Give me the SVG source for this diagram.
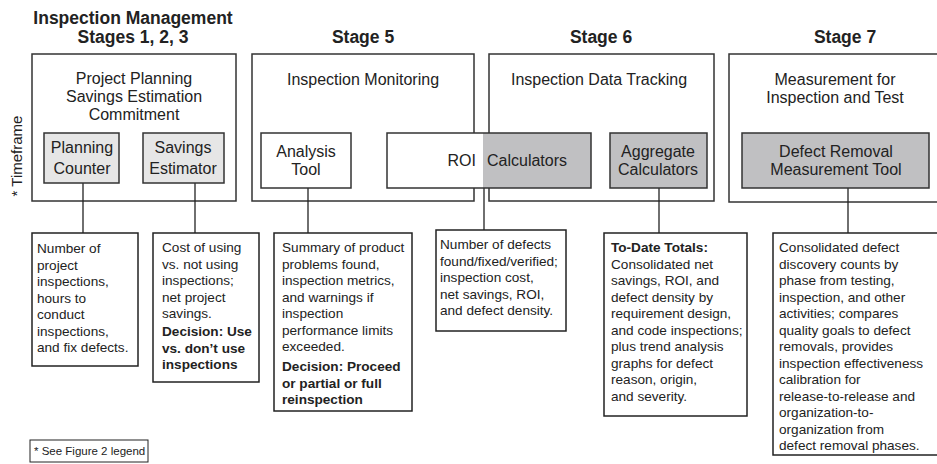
<svg xmlns="http://www.w3.org/2000/svg" width="937" height="464" viewBox="0 0 937 464">
  <style>
    text { font-family: "Liberation Sans", Arial, sans-serif; fill: #222; }
    .hdr { font-size: 17.5px; font-weight: bold; text-anchor: middle; }
    .ttl { font-size: 16px; text-anchor: middle; }
    .lbl { font-size: 16px; text-anchor: middle; }
    .lbl.end { text-anchor: end; }
    .lbl.start { text-anchor: start; }
    .desc { font-size: 13.6px; }
    .b { font-weight: bold; }
    .stage { fill: #fff; stroke: #333; stroke-width: 1.5; }
    .tool-lt { fill: #e6e6e6; stroke: #333; stroke-width: 1.5; }
    .tool-dk { fill: #c0c0c2; stroke: #333; stroke-width: 1.5; }
    .tool-wh { fill: #fff; stroke: #333; stroke-width: 1.5; }
    .note { fill: #fff; stroke: #222; stroke-width: 1.5; }
    .conn line { stroke: #222; stroke-width: 1.3; }
  </style>

  <!-- Column headers -->
  <g id="headers">
    <text class="hdr" x="133" y="24">Inspection Management</text>
    <text class="hdr" x="133" y="43">Stages 1, 2, 3</text>
    <text class="hdr" x="363" y="43">Stage 5</text>
    <text class="hdr" x="601" y="43">Stage 6</text>
    <text class="hdr" x="845" y="43">Stage 7</text>
  </g>

  <text x="22" y="156" font-size="15" text-anchor="middle" transform="rotate(-90 22 156)">* Timeframe</text>

  <!-- Stage containers -->
  <g id="stage-planning">
    <rect class="stage" x="32" y="54" width="204" height="147"/>
    <text class="ttl" x="134" y="84">Project Planning</text>
    <text class="ttl" x="134" y="102">Savings Estimation</text>
    <text class="ttl" x="134" y="120">Commitment</text>
  </g>
  <g id="stage-monitoring">
    <rect class="stage" x="252" y="54" width="222" height="147"/>
    <text class="ttl" x="363" y="85">Inspection Monitoring</text>
  </g>
  <g id="stage-tracking">
    <rect class="stage" x="489" y="54" width="225" height="147"/>
    <text class="ttl" x="599" y="85">Inspection Data Tracking</text>
  </g>
  <g id="stage-measurement">
    <rect class="stage" x="729" y="54" width="240" height="148"/>
    <text class="ttl" x="835" y="85">Measurement for</text>
    <text class="ttl" x="835" y="103">Inspection and Test</text>
  </g>

  <!-- Connectors -->
  <g id="connectors" class="conn">
    <line x1="83" y1="183" x2="83" y2="233"/>
    <line x1="195" y1="183" x2="195" y2="233"/>
    <line x1="308" y1="188" x2="308" y2="233"/>
    <line x1="484" y1="188" x2="484" y2="230"/>
    <line x1="659" y1="188" x2="659" y2="233"/>
    <line x1="848" y1="188" x2="848" y2="233"/>
  </g>

  <!-- Tools -->
  <g id="planning-counter">
    <rect class="tool-lt" x="44" y="133" width="75" height="50"/>
    <text class="lbl" x="82" y="153">Planning</text>
    <text class="lbl" x="82" y="174">Counter</text>
  </g>
  <g id="savings-estimator">
    <rect class="tool-lt" x="143" y="133" width="81" height="50"/>
    <text class="lbl" x="183" y="153">Savings</text>
    <text class="lbl" x="183" y="174">Estimator</text>
  </g>
  <g id="analysis-tool">
    <rect class="tool-wh" x="261" y="133" width="90" height="55"/>
    <text class="lbl" x="306" y="157">Analysis</text>
    <text class="lbl" x="306" y="175">Tool</text>
  </g>
  <g id="roi-calculators">
    <rect fill="#c0c0c2" x="483" y="133" width="108" height="55"/>
    <rect fill="#fff" x="387" y="133" width="96" height="55"/>
    <rect fill="none" stroke="#333" stroke-width="1.5" x="387" y="133" width="204" height="55"/>
    <text class="lbl end" x="476" y="166">ROI</text>
    <text class="lbl start" x="487" y="166">Calculators</text>
  </g>
  <g id="aggregate-calculators">
    <rect class="tool-dk" x="610" y="133" width="97" height="55"/>
    <text class="lbl" x="658" y="157">Aggregate</text>
    <text class="lbl" x="658" y="175">Calculators</text>
  </g>
  <g id="defect-removal-tool">
    <rect class="tool-dk" x="742" y="133" width="187" height="55" stroke-width="2"/>
    <text class="lbl" x="836" y="157">Defect Removal</text>
    <text class="lbl" x="836" y="175">Measurement Tool</text>
  </g>

  <!-- Output notes -->
  <g id="note-planning">
    <rect class="note" x="32" y="233" width="106" height="133"/>
    <text class="desc" x="37" y="253">Number of</text>
    <text class="desc" x="37" y="269.5">project</text>
    <text class="desc" x="37" y="286">inspections,</text>
    <text class="desc" x="37" y="302.5">hours to</text>
    <text class="desc" x="37" y="319">conduct</text>
    <text class="desc" x="37" y="335.5">inspections,</text>
    <text class="desc" x="37" y="352">and fix defects.</text>
  </g>
  <g id="note-savings">
    <rect class="note" x="153" y="233" width="106" height="149"/>
    <text class="desc" x="162" y="252">Cost of using</text>
    <text class="desc" x="162" y="268.5">vs. not using</text>
    <text class="desc" x="162" y="285">inspections;</text>
    <text class="desc" x="162" y="301.5">net project</text>
    <text class="desc" x="162" y="318">savings.</text>
    <text class="desc b" x="162" y="336">Decision: Use</text>
    <text class="desc b" x="162" y="352.5">vs. don’t use</text>
    <text class="desc b" x="162" y="369">inspections</text>
  </g>
  <g id="note-analysis">
    <rect class="note" x="274" y="233" width="138" height="178"/>
    <text class="desc" x="282" y="252">Summary of product</text>
    <text class="desc" x="282" y="268.5">problems found,</text>
    <text class="desc" x="282" y="285">inspection metrics,</text>
    <text class="desc" x="282" y="301.5">and warnings if</text>
    <text class="desc" x="282" y="318">inspection</text>
    <text class="desc" x="282" y="334.5">performance limits</text>
    <text class="desc" x="282" y="351">exceeded.</text>
    <text class="desc b" x="282" y="371">Decision: Proceed</text>
    <text class="desc b" x="282" y="387.5">or partial or full</text>
    <text class="desc b" x="282" y="404">reinspection</text>
  </g>
  <g id="note-roi">
    <rect class="note" x="436" y="230" width="130" height="101"/>
    <text class="desc" x="440" y="249">Number of defects</text>
    <text class="desc" x="440" y="265.5">found/fixed/verified;</text>
    <text class="desc" x="440" y="282">inspection cost,</text>
    <text class="desc" x="440" y="298.5">net savings, ROI,</text>
    <text class="desc" x="440" y="315">and defect density.</text>
  </g>
  <g id="note-aggregate">
    <rect class="note" x="604" y="233" width="143" height="183"/>
    <text class="desc b" x="611" y="252">To-Date Totals:</text>
    <text class="desc" x="611" y="268.5">Consolidated net</text>
    <text class="desc" x="611" y="285">savings, ROI, and</text>
    <text class="desc" x="611" y="301.5">defect density by</text>
    <text class="desc" x="611" y="318">requirement design,</text>
    <text class="desc" x="611" y="334.5">and code inspections;</text>
    <text class="desc" x="611" y="351">plus trend analysis</text>
    <text class="desc" x="611" y="367.5">graphs for defect</text>
    <text class="desc" x="611" y="384">reason, origin,</text>
    <text class="desc" x="611" y="400.5">and severity.</text>
  </g>
  <g id="note-defect-removal">
    <rect class="note" x="773" y="233" width="190" height="222"/>
    <text class="desc" x="779" y="252">Consolidated defect</text>
    <text class="desc" x="779" y="268.5">discovery counts by</text>
    <text class="desc" x="779" y="285">phase from testing,</text>
    <text class="desc" x="779" y="301.5">inspection, and other</text>
    <text class="desc" x="779" y="318">activities; compares</text>
    <text class="desc" x="779" y="334.5">quality goals to defect</text>
    <text class="desc" x="779" y="351">removals, provides</text>
    <text class="desc" x="779" y="367.5">inspection effectiveness</text>
    <text class="desc" x="779" y="384">calibration for</text>
    <text class="desc" x="779" y="400.5">release-to-release and</text>
    <text class="desc" x="779" y="417">organization-to-</text>
    <text class="desc" x="779" y="433.5">organization from</text>
    <text class="desc" x="779" y="450">defect removal phases.</text>
  </g>

  <!-- Legend -->
  <g id="legend">
    <rect x="30" y="440" width="118" height="22" fill="#fff" stroke="#222" stroke-width="1"/>
    <text x="34" y="455" font-size="11.5">* See Figure 2 legend</text>
  </g>
</svg>
